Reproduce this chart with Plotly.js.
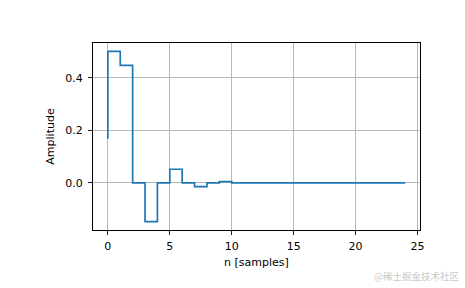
<!DOCTYPE html>
<html>
<head>
<meta charset="utf-8">
<script src="https://cdn.plot.ly/plotly-3.0.1.min.js"></script>
<style>html,body{margin:0;padding:0;background:#fff;}#chart{width:465px;height:288px;}</style>
</head>
<body>
<div id="chart"></div>
<script>
const samples = [0,1,2,3,4,5,6,7,8,9,10,11,12,13,14,15,16,17,18,19,20,21,22,23,24];
const amplitude = [0.168,0.5,0.447,0,-0.147,0,0.052,0,-0.014,0,0.005,0,0,0,0,0,0,0,0,0,0,0,0,0,0];
const xTicks = [0,5,10,15,20,25];
const yTicks = [0.0,0.2,0.4];
const yTickLabels = ['0.0','0.2','0.4'];
const xLabel = 'n [samples]';
const yLabel = 'Amplitude';
const watermark = '@稀土掘金技术社区';

const trace = {
  x: samples, y: amplitude, type: 'scatter', mode: 'lines',
  line: {shape: 'vh', color: '#1f77b4', width: 1.7}
};
const axisCommon = {
  showline: true, linecolor: '#000', linewidth: 1, mirror: true,
  ticks: 'outside', ticklen: 4, tickwidth: 0.9, tickcolor: '#000',
  showgrid: true, gridcolor: '#b0b0b0', gridwidth: 0.9, zeroline: false,
  tickfont: {family: 'DejaVu Sans', size: 11, color: '#000'}
};
const layout = {
  width: 465, height: 288,
  margin: {l: 93, r: 45, t: 43, b: 58},
  paper_bgcolor: '#fff', plot_bgcolor: '#fff',
  showlegend: false,
  font: {family: 'DejaVu Sans', size: 11, color: '#000'},
  xaxis: Object.assign({}, axisCommon, {
    range: [-1.2, 25.2], tickvals: xTicks, ticklabelstandoff: 2,
    title: {text: xLabel, font: {family: 'DejaVu Sans', size: 11, color: '#000'}, standoff: 6}
  }),
  yaxis: Object.assign({}, axisCommon, {
    range: [-0.179, 0.532], tickvals: yTicks, ticktext: yTickLabels, ticklabelstandoff: 3,
    title: {text: yLabel, font: {family: 'DejaVu Sans', size: 11, color: '#000'}, standoff: 8}
  }),
  annotations: [{
    text: watermark, xref: 'paper', yref: 'paper', x: 1.125, y: -0.245,
    xanchor: 'right', yanchor: 'middle', showarrow: false,
    font: {family: 'Noto Sans CJK SC', size: 9.5, color: '#c8c8c8'}
  }]
};
Plotly.newPlot('chart', [trace], layout, {displayModeBar: false, staticPlot: true});
</script>
</body>
</html>
